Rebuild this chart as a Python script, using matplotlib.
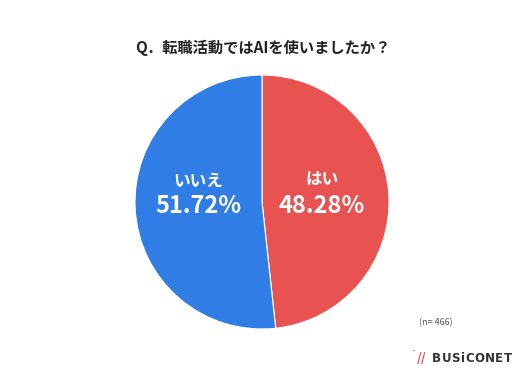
import matplotlib.pyplot as plt

plt.rcParams['font.family'] = ['Noto Sans CJK JP', 'DejaVu Sans']

# データ
labels = ["はい", "いいえ"]
values = [48.28, 51.72]
colors = ["#E85352", "#2F7DE5"]
title = "Q．転職活動ではAIを使いましたか？"
n_text = "(n= 466)"
logo = "BUSiCONET"

fig = plt.figure(figsize=(5.25, 3.75), dpi=100)
fig.patch.set_facecolor("white")

# 円グラフ
ax = fig.add_axes([0.0, 0.0, 1.0, 1.0])
cx, cy = 262 / 525, 1 - 202 / 375
r = 127
wedges, _ = ax.pie(values, colors=colors, startangle=90, counterclock=False,
                   radius=1.0, center=(0, 0),
                   wedgeprops=dict(edgecolor="white", linewidth=0.8))
# 軸の範囲で位置と大きさを合わせる
sx = 525 / (2 * r)
sy = 375 / (2 * r)
ax.set_xlim(-cx * 2 * sx, (1 - cx) * 2 * sx)
ax.set_ylim(-cy * 2 * sy, (1 - cy) * 2 * sy)
ax.set_aspect("auto")
ax.axis("off")

# ラベル
pos = [(0.47, 0.06), (-0.5, 0.06)]
for (x, y), lab, v in zip(pos, labels, values):
    ax.text(x, y + 0.04, lab, ha="center", va="bottom", color="white",
            fontsize=12, fontweight="bold")
    ax.text(x, y, f"{v:.2f}%", ha="center", va="top", color="white",
            fontsize=17, fontweight="bold")

# タイトル
fig.text(0.5, 1 - 48 / 375, title, ha="center", va="center",
         fontsize=11, fontweight="bold", color="#222222")

# n数
fig.text(436 / 525, 1 - 323 / 375, n_text, ha="center", va="center",
         fontsize=6.5, color="#555555")

# ロゴ
fig.text(422 / 525, 1 - 358 / 375, "//", ha="center", va="center",
         fontsize=9, fontweight="bold", style="italic", color="#E85352")
fig.text(414 / 525, 1 - 350 / 375, "•", ha="center", va="center",
         fontsize=3.5, color="#2F7DE5")
renderer = fig.canvas.get_renderer()
chars = []
for ch in logo:
    t = fig.text(0, 1 - 358 / 375, ch, ha="left", va="center",
                 fontsize=8.5, fontweight="bold", color="#333333",
                 family="DejaVu Sans")
    chars.append((t, t.get_window_extent(renderer).width))
total = sum(w for _, w in chars)
gap = (80 - total) / (len(chars) - 1)
px = 432.0
for t, w in chars:
    t.set_x(px / 525)
    px += w + gap

fig.savefig("out.png", dpi=100)
